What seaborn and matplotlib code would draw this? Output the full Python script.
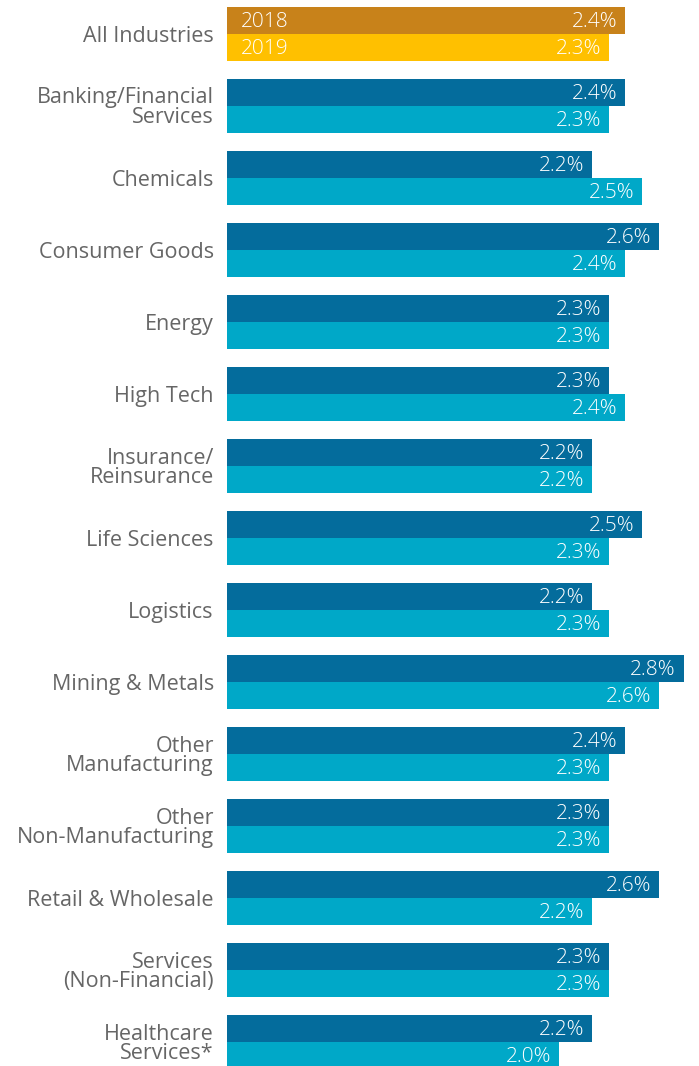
import matplotlib
matplotlib.use("Agg")
import matplotlib.pyplot as plt
import seaborn as sns
import pandas as pd

categories = ["All Industries", "Banking/Financial\nServices", "Chemicals", "Consumer Goods",
              "Energy", "High Tech", "Insurance/\nReinsurance", "Life Sciences", "Logistics",
              "Mining & Metals", "Other\nManufacturing", "Other\nNon-Manufacturing",
              "Retail & Wholesale", "Services\n(Non-Financial)", "Healthcare\nServices*"]
values_2018 = [2.4, 2.4, 2.2, 2.6, 2.3, 2.3, 2.2, 2.5, 2.2, 2.75, 2.4, 2.3, 2.6, 2.3, 2.2]
values_2019 = [2.3, 2.3, 2.5, 2.4, 2.3, 2.4, 2.2, 2.3, 2.3, 2.6, 2.3, 2.3, 2.2, 2.3, 2.0]
years = ["2018", "2019"]

df = pd.DataFrame({
    "category": categories * 2,
    "value": values_2018 + values_2019,
    "year": [years[0]] * len(categories) + [years[1]] * len(categories),
})

W, H = 699, 1066
fig = plt.figure(figsize=(W / 100, H / 100), dpi=100)
x0 = 227
ax = fig.add_axes([x0 / W, 0, (W - x0) / W, 1])

sns.barplot(data=df, y="category", x="value", hue="year", orient="h",
            palette=["#046C9C", "#00A8C8"], width=0.75, ax=ax, legend=False,
            saturation=1, linewidth=0)

px_per_unit = 166
ax.set_xlim(0, (W - x0) / px_per_unit)
pitch = 72
c0 = 34
ax.set_ylim((H - c0) / pitch, -c0 / pitch)

font = "Open Sans"
fs = 15
for i, cont in enumerate(ax.containers):
    for j, bar in enumerate(cont):
        if j == 0:
            bar.set_facecolor("#C8821A" if i == 0 else "#FFC000")
        v = bar.get_width()
        cy = bar.get_y() + bar.get_height() / 2
        ax.annotate(f"{v:.1f}%", (v, cy), xytext=(-5.5, -1.2), textcoords="offset points",
                    ha="right", va="center", color="white", fontsize=fs,
                    family=font, fontweight="light")
        if j == 0:
            ax.annotate(years[i], (0, cy), xytext=(10, -1.2), textcoords="offset points",
                        ha="left", va="center", color="white", fontsize=fs,
                        family=font, fontweight="light")

ax.set_yticks(range(len(categories)))
ax.set_yticklabels(categories, fontsize=15.5, family=font, color="#666666",
                   linespacing=0.88)
for t in ax.get_yticklabels():
    t.set_multialignment("right")
ax.tick_params(axis="y", length=0, pad=9.5)
ax.tick_params(axis="x", length=0, labelbottom=False)
ax.set_xlabel("")
ax.set_ylabel("")
for s in ax.spines.values():
    s.set_visible(False)

fig.savefig("out.png", dpi=100)
